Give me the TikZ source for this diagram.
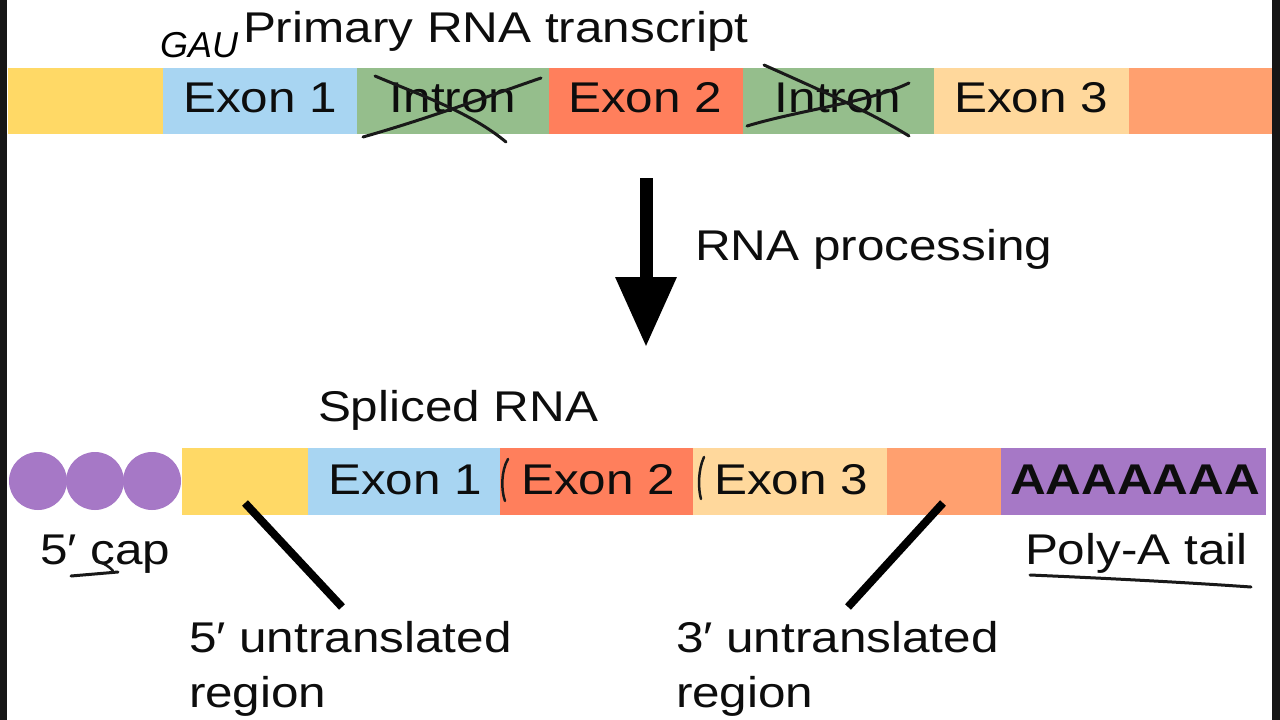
\documentclass[tikz,border=0pt]{standalone}
\usepackage{fontspec}
\setmainfont{Liberation Sans}
\usepackage{graphicx}
\usetikzlibrary{arrows.meta}
\definecolor{yel}{HTML}{FFD966}
\definecolor{blu}{HTML}{A8D5F2}
\definecolor{grn}{HTML}{95BE8C}
\definecolor{cor}{HTML}{FF7F5C}
\definecolor{lor}{HTML}{FFD89C}
\definecolor{org}{HTML}{FFA06F}
\definecolor{pur}{HTML}{A678C6}
\definecolor{edge}{HTML}{161616}
\newcommand{\hsx}[1]{\scalebox{1.15}[1]{#1}}
\begin{document}
\begin{tikzpicture}[x=1pt,y=-1pt,
  seg/.style={draw=none, inner sep=0pt, outer sep=0pt, anchor=west},
  topseg/.style={seg, minimum height=66pt},
  botseg/.style={seg, minimum height=67pt},
  lbl/.style={inner sep=0pt, outer sep=0pt, anchor=base, font=\fontsize{43}{54}\selectfont, text=black!95},
  lblw/.style={lbl, anchor=base west},
  hand/.style={line width=3pt, line cap=round, draw=black!90},
  ptr/.style={line width=8pt, draw=black},
  capdot/.style={circle, fill=pur, minimum size=58pt, inner sep=0pt, outer sep=0pt},
]
\useasboundingbox (0,0) rectangle (1280,720);
\fill[white] (0,0) rectangle (1280,720);
\fill[edge] (0,0) rectangle (7,720);
\fill[edge] (1272,0) rectangle (1280,720);

% ---------- primary transcript ----------
\node[lblw] (title1) at (243,42) {\hsx{Primary RNA transcript}};
\node[inner sep=0pt, anchor=base west, font=\fontsize{36}{40}\selectfont\itshape, text=black] (gau) at (160,57) {GAU};

\node[topseg, fill=yel, minimum width=155pt] (t1) at (8,101) {};
\node[topseg, fill=blu, minimum width=194pt] (t2) at (163,101) {};
\node[topseg, fill=grn, minimum width=192pt] (t3) at (357,101) {};
\node[topseg, fill=cor, minimum width=194pt] (t4) at (549,101) {};
\node[topseg, fill=grn, minimum width=191pt] (t5) at (743,101) {};
\node[topseg, fill=lor, minimum width=195pt] (t6) at (934,101) {};
\node[topseg, fill=org, minimum width=143pt] (t7) at (1129,101) {};

\node[lbl] (tx1) at (260,112) {\hsx{Exon 1}};
\node[lbl] (tx2) at (453,112) {\hsx{Intron}};
\node[lbl] (tx3) at (645,112) {\hsx{Exon 2}};
\node[lbl] (tx4) at (838,112) {\hsx{Intron}};
\node[lbl] (tx5) at (1031,112) {\hsx{Exon 3}};

% strike-outs
\draw[hand] (363,137) .. controls (430,118) and (500,92) .. (541,78);
\draw[hand] (375,76) .. controls (420,95) and (470,112) .. (506,142);
\draw[hand] (747,126) .. controls (800,110) and (870,102) .. (909,83);
\draw[hand] (764,65) .. controls (820,90) and (870,112) .. (909,136);

% ---------- arrow ----------
\coordinate (ar1) at (646,178);
\coordinate (ar2) at (646,347);
\draw[line width=13pt, -{Triangle[width=58pt,length=70pt]}] (ar1) -- (ar2);
\node[lblw] (proc) at (695,260) {\hsx{RNA processing}};

% ---------- spliced RNA ----------
\node[lblw] (title2) at (318,421) {\hsx{Spliced RNA}};

\node[capdot] (c1) at (38,481) {};
\node[capdot] (c2) at (95,481) {};
\node[capdot] (c3) at (152,481) {};

\node[botseg, fill=yel, minimum width=126pt] (b1) at (182,481.5) {};
\node[botseg, fill=blu, minimum width=192pt] (b2) at (308,481.5) {};
\node[botseg, fill=cor, minimum width=193pt] (b3) at (500,481.5) {};
\node[botseg, fill=lor, minimum width=194pt] (b4) at (693,481.5) {};
\node[botseg, fill=org, minimum width=114pt] (b5) at (887,481.5) {};
\node[botseg, fill=pur, minimum width=265pt] (b6) at (1001,481.5) {};

\node[lbl] (bx1) at (405,494) {\hsx{Exon 1}};
\node[lbl] (bx2) at (598,494) {\hsx{Exon 2}};
\node[lbl] (bx3) at (791,494) {\hsx{Exon 3}};
\node[lbl, font=\fontsize{43}{54}\selectfont\bfseries] (bx4) at (1135,494) {\hsx{AAAAAAA}};

% handwritten splice marks
\draw[hand, line width=2.5pt] (508,459) .. controls (501,471) and (501,490) .. (505,501);
\draw[hand, line width=2.5pt] (704,457) .. controls (698,470) and (698,488) .. (701,499);

% labels
\node[lblw] (cap) at (40,564) {\hsx{5′ cap}};
\draw[hand] (71,576) -- (118,572);
\draw[hand, line width=2.5pt] (96,561) .. controls (104,563) and (110,567) .. (113,571);
\node[lblw] (poly) at (1025,564) {\hsx{Poly-A tail}};
\draw[hand] (1030,575) .. controls (1100,578) and (1180,582) .. (1251,587);

\node[lblw] (u5a) at (189,652) {\hsx{5′ untranslated}};
\node[lblw] (u5b) at (189,707) {\hsx{region}};
\node[lblw] (u3a) at (676,652) {\hsx{3′ untranslated}};
\node[lblw] (u3b) at (676,707) {\hsx{region}};

\coordinate (p5a) at (245,503);
\coordinate (p5b) at (342,607);
\coordinate (p3a) at (943,503);
\coordinate (p3b) at (848,607);
\draw[ptr] (p5a) -- (p5b);
\draw[ptr] (p3a) -- (p3b);
\end{tikzpicture}
\end{document}
